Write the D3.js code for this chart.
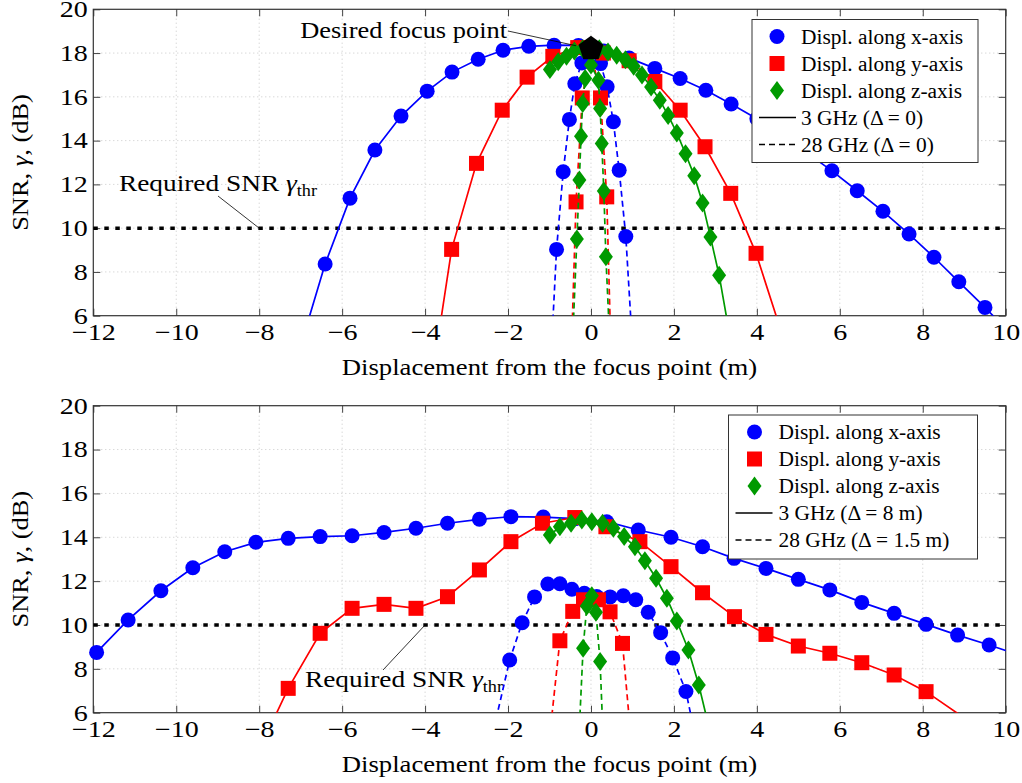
<!DOCTYPE html>
<html>
<head>
<meta charset="utf-8">
<script src="https://cdn.jsdelivr.net/npm/d3@7"></script>
<style>
body { margin: 0; background: #fff; }
text { font-family: "Liberation Serif", "DejaVu Serif", serif; fill: #000; }
</style>
</head>
<body>
<svg id="chart" width="1022" height="783"></svg>
<script>
// ---- data ----
var xTicks = [-12, -10, -8, -6, -4, -2, 0, 2, 4, 6, 8, 10];
var yTicks = [6, 8, 10, 12, 14, 16, 18, 20];
var snrThreshold = 10;

// top panel: Delta = 0
var topX3 = [[-7.02,4.5],[-6.41,8.36],[-5.81,11.37],[-5.21,13.57],[-4.58,15.12],[-3.95,16.26],[-3.35,17.13],[-2.72,17.72],[-2.12,18.13],[-1.5,18.31],[-0.89,18.36],[-0.3,18.35],[0.31,18.1],[0.92,17.77],[1.54,17.3],[2.15,16.84],[2.77,16.3],[3.38,15.67],[4.0,15.0],[4.6,14.25],[5.2,13.45],[5.81,12.62],[6.42,11.71],[7.04,10.77],[7.67,9.73],[8.27,8.67],[8.87,7.55],[9.5,6.38],[10.1,5.2]];
var topY3 = [[-3.7,4.8],[-3.36,9.03],[-2.76,12.96],[-2.14,15.39],[-1.54,16.9],[-0.92,17.85],[-0.32,18.25],[0.3,18.0],[0.92,17.65],[1.54,16.7],[2.15,15.39],[2.75,13.72],[3.37,11.59],[3.98,8.85],[4.6,5.2]];
var topZ3 = [[-0.99,17.25],[-0.79,17.6],[-0.59,17.85],[-0.4,18.1],[-0.2,18.2],[0,18.25],[0.2,18.2],[0.41,18.05],[0.62,17.9],[0.83,17.7],[1.03,17.4],[1.23,17.0],[1.45,16.45],[1.66,15.85],[1.86,15.15],[2.07,14.35],[2.28,13.4],[2.49,12.4],[2.69,11.15],[2.88,9.6],[3.09,7.85],[3.3,5.6]];
var topX28 = [[-0.98,3.5],[-0.83,9.03],[-0.67,12.58],[-0.52,14.97],[-0.39,16.6],[-0.22,17.55],[0,18.1],[0.23,17.52],[0.39,16.46],[0.54,14.86],[0.68,12.65],[0.84,9.62],[1.02,4.0]];
var topY28 = [[-0.47,4.5],[-0.36,11.2],[-0.21,15.95],[0,18.15],[0.23,15.95],[0.38,11.43],[0.48,4.5]];
var topZ28 = [[-0.45,4.5],[-0.34,9.5],[-0.28,12.2],[-0.24,14.2],[-0.2,15.7],[-0.14,16.84],[0,17.45],[0.18,16.76],[0.22,15.47],[0.26,13.87],[0.31,11.7],[0.36,8.69],[0.46,4.5]];
var focusPoint = [0, 18.2];

// bottom panel: Delta = 8 m (3 GHz), 1.5 m (28 GHz)
var botX3 = [[-11.92,8.75],[-11.16,10.23],[-10.37,11.56],[-9.6,12.61],[-8.83,13.34],[-8.08,13.77],[-7.3,13.95],[-6.53,14.03],[-5.76,14.07],[-4.99,14.22],[-4.22,14.41],[-3.46,14.64],[-2.69,14.82],[-1.93,14.94],[-1.15,14.92],[-0.38,14.85],[0.38,14.71],[1.14,14.33],[1.93,14.0],[2.69,13.57],[3.45,13.04],[4.22,12.58],[5.0,12.08],[5.76,11.6],[6.53,11.03],[7.31,10.53],[8.08,10.03],[8.84,9.54],[9.6,9.09],[10.37,8.6]];
var botY3 = [[-7.9,4.7],[-7.3,7.11],[-6.53,9.62],[-5.76,10.76],[-4.99,10.94],[-4.22,10.76],[-3.46,11.29],[-2.69,12.51],[-1.93,13.8],[-1.17,14.64],[-0.39,14.9],[0.36,14.48],[1.18,13.8],[1.93,12.66],[2.69,11.47],[3.46,10.38],[4.22,9.57],[5.0,9.04],[5.76,8.71],[6.53,8.28],[7.31,7.72],[8.08,6.96],[9.2,5.5]];
var botZ3 = [[-0.99,14.1],[-0.75,14.48],[-0.48,14.64],[-0.22,14.79],[0.02,14.71],[0.28,14.64],[0.54,14.41],[0.8,14.03],[1.06,13.57],[1.3,12.93],[1.57,12.13],[1.83,11.22],[2.07,10.18],[2.35,8.86],[2.6,7.26],[2.85,5.3]];
var botX28 = [[-2.4,4.8],[-1.96,8.4],[-1.66,10.1],[-1.36,11.28],[-1.04,11.87],[-0.75,11.88],[-0.46,11.63],[-0.16,11.45],[0.14,11.3],[0.46,11.28],[0.78,11.33],[1.08,11.15],[1.38,10.58],[1.68,9.65],[1.97,8.5],[2.29,6.97],[2.55,4.6]];
var botY28 = [[-1.02,4.5],[-0.75,9.28],[-0.44,10.62],[-0.18,11.15],[0.18,11.15],[0.46,10.6],[0.76,9.16],[0.98,4.5]];
var botZ28 = [[-0.3,4.5],[-0.19,8.94],[-0.1,10.87],[0.02,11.33],[0.12,10.58],[0.22,8.33],[0.3,4.5]];

var legendTop = ['Displ. along x-axis', 'Displ. along y-axis', 'Displ. along z-axis', '3 GHz (\u0394 = 0)', '28 GHz (\u0394 = 0)'];
var legendBot = ['Displ. along x-axis', 'Displ. along y-axis', 'Displ. along z-axis', '3 GHz (\u0394 = 8 m)', '28 GHz (\u0394 = 1.5 m)'];
var xTitle = 'Displacement from the focus point (m)';

// ---- styles ----
var BLUE = '#0000ff', RED = '#ff0000', GREEN = '#009a00';
var FONT = 23;

var svg = d3.select('#chart');
var x = d3.scaleLinear().domain([-12, 10]).range([93.3, 1005.7]);

// the original's type is a little wide, so texts get a horizontal stretch
function wideText(parent, px, py, sx, size) {
  return parent.append('text')
    .attr('transform', 'translate(' + px + ',' + py + ') scale(' + sx + ',1)')
    .attr('font-size', size);
}

function marker(g, kind, cx, cy, color) {
  if (kind == 'circle') {
    g.append('circle').attr('cx', cx).attr('cy', cy).attr('r', 7.5).attr('fill', color);
  } else if (kind == 'square') {
    g.append('rect').attr('x', cx - 7.5).attr('y', cy - 7.5)
      .attr('width', 15).attr('height', 15).attr('fill', color);
  } else {
    g.append('path').attr('d', 'M' + cx + ',' + (cy - 9.5) + 'L' + (cx + 7) + ',' + cy
      + 'L' + cx + ',' + (cy + 9.5) + 'L' + (cx - 7) + ',' + cy + 'Z').attr('fill', color);
  }
}

function gammaThr(t) {
  t.append('tspan').text('Required SNR ');
  t.append('tspan').attr('font-style', 'italic').text('\u03b3');
  t.append('tspan').attr('font-size', 16).attr('dy', 5).text('thr');
}

// draws one panel; y0/y1 are the pixel rows of the bottom and top of the axis box
function drawPanel(id, y0, y1, series, legendText, legendBox) {
  var y = d3.scaleLinear().domain([6, 20]).range([y0, y1]);
  var g = svg.append('g').attr('id', id);

  g.append('clipPath').attr('id', id + '-clip')
    .append('rect').attr('x', x(-12)).attr('y', y1)
    .attr('width', x(10) - x(-12)).attr('height', y0 - y1);

  // grid
  var grid = g.append('g').attr('stroke', '#c8c8c8').attr('stroke-width', 1)
    .attr('stroke-dasharray', '1,3');
  grid.selectAll('.gx').data(xTicks.slice(1, -1)).enter().append('line')
    .attr('x1', function(d) { return x(d); }).attr('x2', function(d) { return x(d); })
    .attr('y1', y0).attr('y2', y1);
  grid.selectAll('.gy').data(yTicks.slice(1, -1)).enter().append('line')
    .attr('y1', function(d) { return y(d); }).attr('y2', function(d) { return y(d); })
    .attr('x1', x(-12)).attr('x2', x(10));

  // axes, ticks inside on all four sides
  var fmt = function(d) { return d < 0 ? '\u2212' + (-d) : d; };
  g.append('g').attr('transform', 'translate(0,' + y0 + ')')
    .call(d3.axisBottom(x).tickValues(xTicks).tickSizeInner(-7).tickSizeOuter(0).tickPadding(8).tickFormat(fmt));
  g.append('g').attr('transform', 'translate(0,' + y1 + ')')
    .call(d3.axisTop(x).tickValues(xTicks).tickSizeInner(-7).tickSizeOuter(0).tickFormat(''));
  g.append('g').attr('transform', 'translate(' + x(-12) + ',0)')
    .call(d3.axisLeft(y).tickValues(yTicks).tickSizeInner(-7).tickSizeOuter(0).tickPadding(4.5));
  g.append('g').attr('transform', 'translate(' + x(10) + ',0)')
    .call(d3.axisRight(y).tickValues(yTicks).tickSizeInner(-7).tickSizeOuter(0).tickFormat(''));
  g.selectAll('.domain').remove();
  g.selectAll('.tick line').attr('stroke', '#444');
  g.selectAll('.tick text').attr('font-size', FONT).attr('font-family', '"Liberation Serif", serif')
    .attr('transform', 'scale(1.22,1)');
  g.append('rect').attr('x', x(-12)).attr('y', y1).attr('width', x(10) - x(-12)).attr('height', y0 - y1)
    .attr('fill', 'none').attr('stroke', '#333').attr('stroke-width', 1.2);

  // threshold
  g.append('line').attr('x1', x(-12)).attr('x2', x(10))
    .attr('y1', y(snrThreshold)).attr('y2', y(snrThreshold))
    .attr('stroke', '#000').attr('stroke-width', 3.5).attr('stroke-dasharray', '4.5,6.5');

  // curves
  var line = d3.line().x(function(d) { return x(d[0]); }).y(function(d) { return y(d[1]); });
  series.forEach(function(s) {
    g.append('path').datum(s.data).attr('d', line)
      .attr('clip-path', 'url(#' + id + '-clip)')
      .attr('fill', 'none').attr('stroke', s.color).attr('stroke-width', 1.7)
      .attr('stroke-dasharray', s.dashed ? '6,4' : null);
    var mg = g.append('g');
    s.data.forEach(function(d) {
      if (d[1] < 6 || d[1] > 20 || d[0] < -12 || d[0] > 10) return;
      marker(mg, s.kind, x(d[0]), y(d[1]), s.color);
    });
  });

  // legend
  var lg = g.append('g').attr('transform', 'translate(' + legendBox[0] + ',' + legendBox[1] + ')');
  lg.append('rect').attr('width', legendBox[2]).attr('height', legendBox[3])
    .attr('fill', '#fff').attr('stroke', '#333').attr('stroke-width', 1);
  var kinds = [['circle', BLUE], ['square', RED], ['diamond', GREEN]];
  legendText.forEach(function(t, i) {
    var ry = 17 + i * 27;
    if (i < 3) {
      marker(lg, kinds[i][0], legendBox[4], ry, kinds[i][1]);
    } else {
      lg.append('line').attr('x1', 7).attr('x2', 44).attr('y1', ry).attr('y2', ry)
        .attr('stroke', '#000').attr('stroke-width', 1.7)
        .attr('stroke-dasharray', i == 4 ? '6,4' : null);
    }
    wideText(lg, legendBox[5], ry + 7, 1.07, 20).text(t);
  });

  // axis titles
  wideText(g, x(-1), y0 + 59, 1.16, FONT).attr('text-anchor', 'middle').text(xTitle);
  var yl = g.append('text').attr('transform', 'translate(28,' + ((y0 + y1) / 2) + ') rotate(-90) scale(1.15,1)')
    .attr('text-anchor', 'middle').attr('font-size', FONT);
  yl.append('tspan').text('SNR, ');
  yl.append('tspan').attr('font-style', 'italic').text('\u03b3');
  yl.append('tspan').text(', (dB)');

  return { g: g, y: y };
} // end of drawPanel

// top panel
var panelTop = drawPanel('top', 315.7, 9.3, [
  { data: topX3, color: BLUE, kind: 'circle' },
  { data: topX28, color: BLUE, kind: 'circle', dashed: true },
  { data: topY3, color: RED, kind: 'square' },
  { data: topY28, color: RED, kind: 'square', dashed: true },
  { data: topZ3, color: GREEN, kind: 'diamond' },
  { data: topZ28, color: GREEN, kind: 'diamond', dashed: true }
], legendTop, [752, 19.5, 226, 143, 25, 49]);

// focus point pentagon + pin
var fx = x(focusPoint[0]), fy = panelTop.y(focusPoint[1]);
var penta = d3.range(5).map(function(i) {
  var a = -Math.PI / 2 + i * 2 * Math.PI / 5;
  return [fx + 13 * Math.cos(a), fy + 13 * Math.sin(a)];
});
panelTop.g.append('path').attr('d', 'M' + penta.join('L') + 'Z').attr('fill', '#000');
panelTop.g.append('line').attr('x1', 508).attr('y1', 31).attr('x2', fx - 15).attr('y2', fy - 3)
  .attr('stroke', '#000').attr('stroke-width', 0.8);
wideText(panelTop.g, 507, 38, 1.1, 24).attr('text-anchor', 'end').text('Desired focus point');

var tx = x(-8), ty = panelTop.y(snrThreshold);
panelTop.g.append('line').attr('x1', tx).attr('y1', ty).attr('x2', 218).attr('y2', 196)
  .attr('stroke', '#000').attr('stroke-width', 0.8);
gammaThr(wideText(panelTop.g, 218, 191, 1.14, 24).attr('text-anchor', 'middle'));

// bottom panel
var panelBot = drawPanel('bot', 712.7, 405.7, [
  { data: botX3, color: BLUE, kind: 'circle' },
  { data: botX28, color: BLUE, kind: 'circle', dashed: true },
  { data: botY3, color: RED, kind: 'square' },
  { data: botY28, color: RED, kind: 'square', dashed: true },
  { data: botZ3, color: GREEN, kind: 'diamond' },
  { data: botZ28, color: GREEN, kind: 'diamond', dashed: true }
], legendBot, [728.5, 415, 249, 144, 26, 50]);

var bx = x(-4), by = panelBot.y(snrThreshold);
panelBot.g.append('line').attr('x1', bx).attr('y1', by).attr('x2', 383).attr('y2', 670)
  .attr('stroke', '#000').attr('stroke-width', 0.8);
gammaThr(wideText(panelBot.g, 404, 687, 1.14, 24).attr('text-anchor', 'middle'));
</script>
</body>
</html>
